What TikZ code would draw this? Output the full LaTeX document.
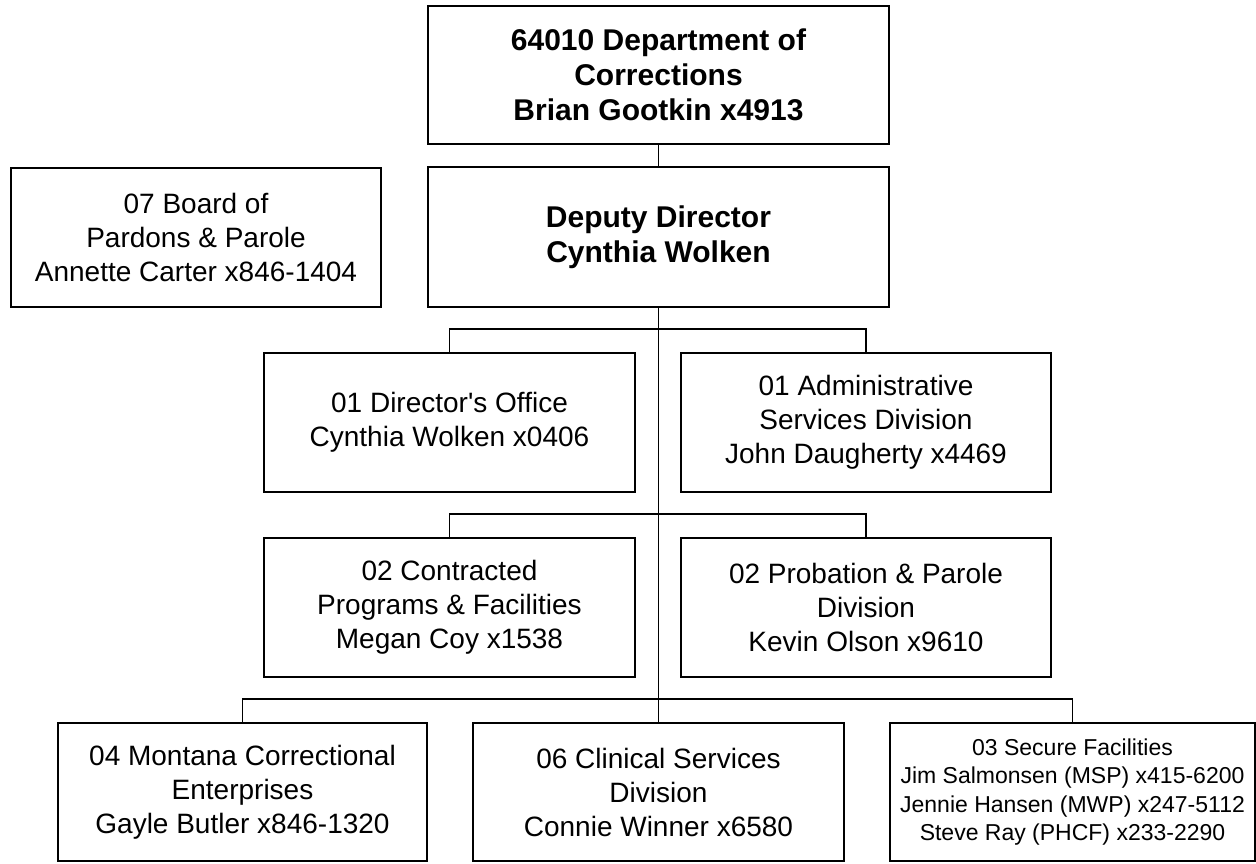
\documentclass[tikz,border=0pt]{standalone}
\usepackage{fontspec}
\setmainfont{Liberation Sans}
\usepackage{tikz}
\usetikzlibrary{positioning,calc}
\tikzset{
  orgBox/.style={draw=black, line width=2.2pt, align=center, inner sep=0pt, font=\fontsize{28}{34}\selectfont},
  headBox/.style={orgBox, font=\fontsize{30}{35}\selectfont\bfseries},
  smallBox/.style={orgBox, font=\fontsize{23}{28.5}\selectfont},
  orgLink/.style={draw=black, line width=1.8pt}
}

\begin{document}
\begin{tikzpicture}[x=1pt,y=-1pt]
  \useasboundingbox (0,0) rectangle (1256,863);
  % top of the chart
  \node[headBox, minimum width=461pt, minimum height=138pt] (dept) at (658.5,75)
    {64010 Department of\\Corrections\\Brian Gootkin x4913};
  \node[headBox, minimum width=461pt, minimum height=140pt] (deputy) at (658.5,237)
    {Deputy Director\\Cynthia Wolken};
  \node[orgBox, minimum width=370pt, minimum height=139pt] (board) at (196,237.5)
    {07 Board of\\Pardons \& Parole\\Annette Carter x846-1404};
  % divisions
  \node[orgBox, minimum width=371pt, minimum height=139pt] (dirOffice) at (449.5,422.5)
    {01 Director\textquotesingle s Office\\Cynthia Wolken x0406};
  \node[orgBox, minimum width=370pt, minimum height=139pt] (adminSvc) at (866,422.5)
    {01 Administrative\\Services Division\\John Daugherty x4469};
  \node[orgBox, minimum width=371pt, minimum height=139pt] (contract) at (449.5,607.5)
    {02 Contracted\\Programs \& Facilities\\Megan Coy x1538};
  \node[orgBox, minimum width=370pt, minimum height=139pt] (probation) at (866,607.5)
    {02 Probation \& Parole\\Division\\Kevin Olson x9610};
  \node[orgBox, minimum width=369pt, minimum height=138pt] (mce) at (242.5,792)
    {04 Montana Correctional\\Enterprises\\Gayle Butler x846-1320};
  \node[orgBox, minimum width=371pt, minimum height=138pt] (clinical) at (658.5,792)
    {06 Clinical Services\\Division\\Connie Winner x6580};
  \node[smallBox, minimum width=365pt, minimum height=138pt] (secure) at (1072.5,792)
    {03 Secure Facilities\\Jim Salmonsen (MSP) x415-6200\\Jennie Hansen (MWP) x247-5112\\Steve Ray (PHCF) x233-2290};
  % connectors
  \draw[orgLink] (dept.south) -- (deputy.north);
  \draw[orgLink] (deputy.south) -- (clinical.north);
  \foreach \lft/\rgt in {dirOffice/adminSvc,contract/probation,mce/secure}
    \draw[orgLink] (\lft.north) -- ++(0,-23) -| (\rgt.north);
\end{tikzpicture}
\end{document}
